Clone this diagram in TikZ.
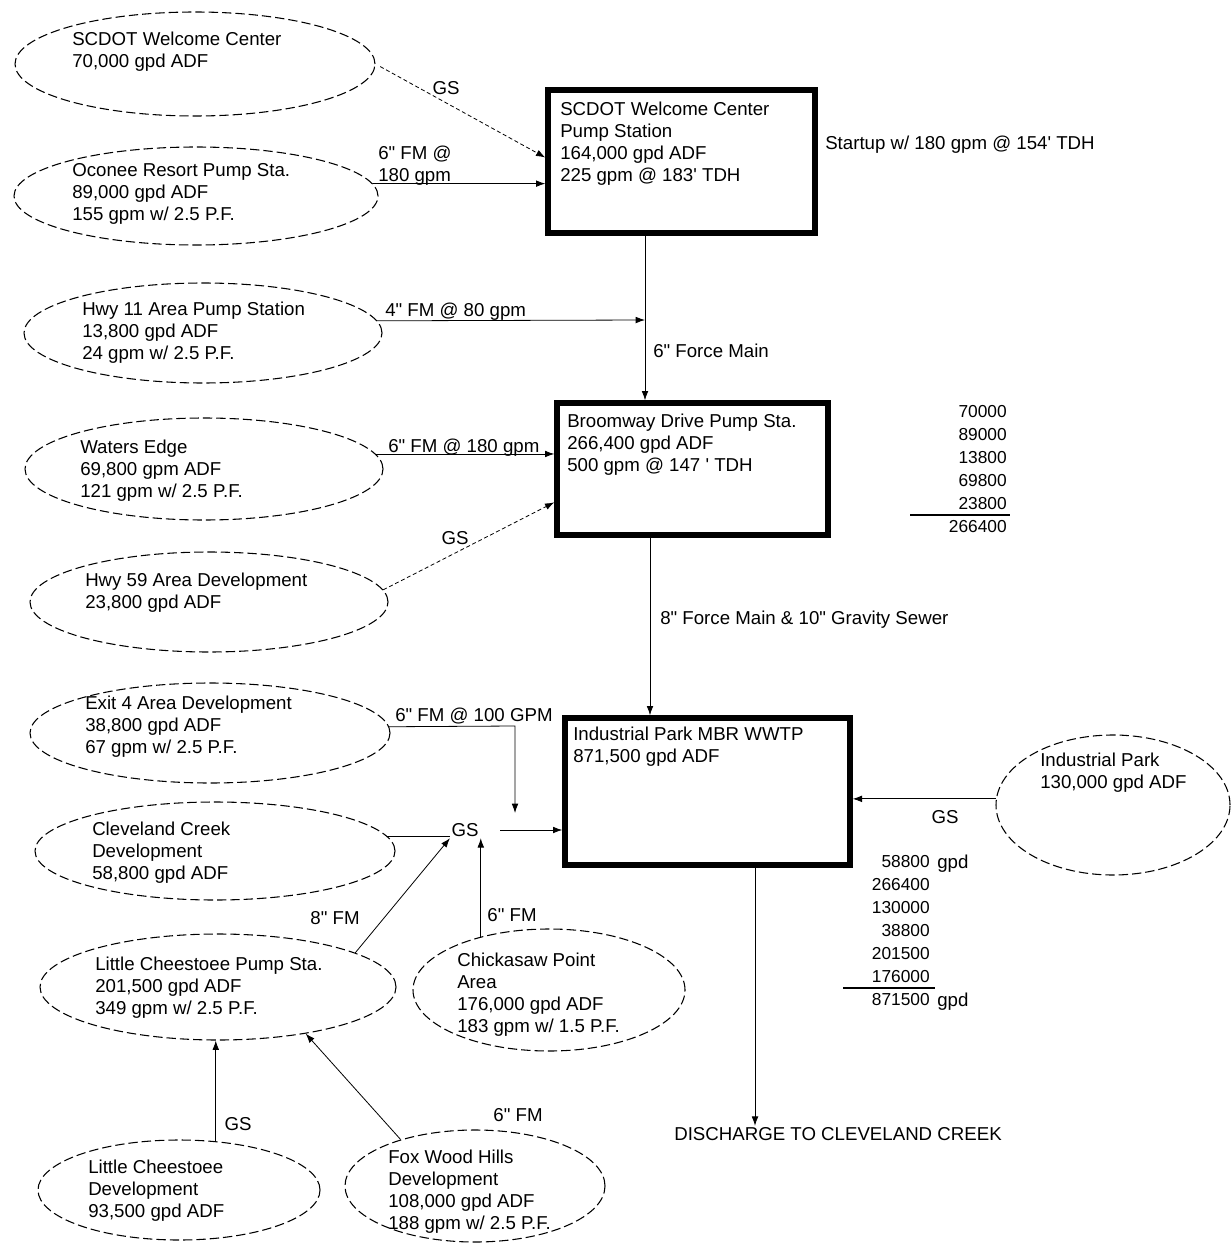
\documentclass[tikz,border=0pt]{standalone}
\usepackage{fontspec}
\setmainfont{Liberation Sans}[Ligatures=TeXOff]
\usetikzlibrary{shapes.geometric,arrows.meta}
\begin{document}
\begin{tikzpicture}[x=0.75pt,y=-0.75pt,
  every node/.style={font=\fontsize{14}{16.5}\selectfont},
  dims/.style 2 args={minimum width=#1*0.75pt, minimum height=#2*0.75pt},
  area/.style={ellipse, draw, dash pattern=on 7pt off 3pt, line width=0.8pt, inner sep=0pt},
  station/.style={rectangle, draw, line width=4pt, inner sep=0pt},
  txt/.style={align=left, anchor=north west, inner sep=0pt},
  tag/.style={inner sep=1pt},
  flow/.style={-{Latex[length=7pt,width=5pt]}, line width=0.6pt},
  gsflow/.style={flow, densely dashed},
  sums/.style={align=right, anchor=north east, inner sep=0pt, font=\fontsize{13}{17.2}\selectfont},
]
\useasboundingbox (0,0) rectangle (1230,1244);

% ---- contributing areas (dashed ellipses) ----
\node[area, dims={360}{104}] (wc)   at (195,64)   {};
\node[area, dims={364}{98}]  (oc)   at (196,196)  {};
\node[area, dims={358}{100}] (h11)  at (203,333)  {};
\node[area, dims={358}{102}] (we)   at (204,469)  {};
\node[area, dims={358}{100}] (h59)  at (209,602)  {};
\node[area, dims={360}{100}] (ex4)  at (210,733)  {};
\node[area, dims={360}{98}]  (cc)   at (215,851)  {};
\node[area, dims={356}{106}] (lcps) at (218,987)  {};
\node[area, dims={272}{122}] (cp)   at (549,990)  {};
\node[area, dims={234}{140}] (ip)   at (1113,805) {};
\node[area, dims={282}{100}] (lcd)  at (179,1190) {};
\node[area, dims={260}{112}] (fw)   at (475,1186) {};

\node[txt] (wct)   at (72,32)    {SCDOT Welcome Center\\70,000 gpd ADF};
\node[txt] (oct)   at (72,163)   {Oconee Resort Pump Sta.\\89,000 gpd ADF\\155 gpm w/ 2.5 P.F.};
\node[txt] (h11t)  at (82,302)   {Hwy 11 Area Pump Station\\13,800 gpd ADF\\24 gpm w/ 2.5 P.F.};
\node[txt] (wet)   at (80,440)   {Waters Edge\\69,800 gpm ADF\\121 gpm w/ 2.5 P.F.};
\node[txt] (h59t)  at (85,573)   {Hwy 59 Area Development\\23,800 gpd ADF};
\node[txt] (ex4t)  at (85,696)   {Exit 4 Area Development\\38,800 gpd ADF\\67 gpm w/ 2.5 P.F.};
\node[txt] (cct)   at (92,822)   {Cleveland Creek\\Development\\58,800 gpd ADF};
\node[txt] (lcpst) at (95,957)   {Little Cheestoee Pump Sta.\\201,500 gpd ADF\\349 gpm w/ 2.5 P.F.};
\node[txt] (cpt)   at (457,953)  {Chickasaw Point\\Area\\176,000 gpd ADF\\183 gpm w/ 1.5 P.F.};
\node[txt] (ipt)   at (1040,753) {Industrial Park\\130,000 gpd ADF};
\node[txt] (lcdt)  at (88,1160)  {Little Cheestoee\\Development\\93,500 gpd ADF};
\node[txt] (fwt)   at (388,1150) {Fox Wood Hills\\Development\\108,000 gpd ADF\\188 gpm w/ 2.5 P.F.};

% ---- pump stations and plant (heavy boxes) ----
\node[station, dims={267}{143}] (b1) at (681.5,161.5) {};
\node[station, dims={271}{132}] (b2) at (692.5,469)   {};
\node[station, dims={285}{147}] (b3) at (707.5,791.5) {};

\node[txt] (b1t) at (560,102) {SCDOT Welcome Center\\Pump Station\\164,000 gpd ADF\\225 gpm @ 183' TDH};
\node[txt] (b2t) at (567,414) {Broomway Drive Pump Sta.\\266,400 gpd ADF\\500 gpm @ 147 ' TDH};
\node[txt] (b3t) at (573,727) {Industrial Park MBR WWTP\\871,500 gpd ADF};

\node[txt] (startup) at (825,136) {Startup w/ 180 gpm @ 154' TDH};

% ---- junction points ----
\coordinate (j1) at (645,320);
\coordinate (j2) at (650,620);
\coordinate (j3) at (515,726);
\coordinate (j4) at (515,813);
\coordinate (j5) at (755,1000);

\node[tag] (gs) at (465,830) {GS};
\node[tag] (dis) at (838,1134) {DISCHARGE TO CLEVELAND CREEK};

% ---- connectors ----
\draw[gsflow, shorten <=4pt] (wc.east) -- ([yshift=3pt]b1.west);
\node[tag] (l1) at (446,88) {GS};

\draw[flow] (oc.4) -- (oc.4 -| b1.west);
\node[txt] (l2) at (378,146) {6" FM @\\180 gpm};

\draw[flow] (b1.south -| j1) -- (b2.north -| j1);
\node[txt] (l3) at (653,344) {6" Force Main};

\draw[flow] (h11.4) -- (j1);
\node[txt] (l4) at (385,303) {4" FM @ 80 gpm};

\draw[flow] (we.5) -- (we.5 -| b2.west);
\node[txt] (l5) at (388,439) {6" FM @ 180 gpm};

\draw[gsflow] (h59.4) -- ([yshift=-25pt]b2.west);
\node[tag] (l6) at (455,538) {GS};

\draw[flow] (b2.south -| j2) -- (b3.north -| j2);
\node[txt] (l7) at (660,611) {8" Force Main \& 10" Gravity Sewer};

\draw[flow] (ex4.2) -- (j3) -- (j4);
\node[txt] (l8) at (395,708) {6" FM @ 100 GPM};

\draw[line width=0.6pt] (cc.5) -- (cc.5 -| gs.west);
\draw[flow] ([xshift=15pt]gs.east) -- (gs.east -| b3.west);

\draw[flow] (lcps.14) -- (gs.south west);
\node[tag] (l9) at (335,918) {8" FM};

\draw[flow] (cp.142) -- (cp.142 |- gs.south);
\node[tag] (l10) at (512,915) {6" FM};

\draw[flow] (ip.177) -- (ip.177 -| b3.east);
\node[tag] (l11) at (945,817) {GS};

\draw[flow] (b3.south -| j5) -- (j5 |- dis.north);

\draw[flow] (lcd.53) -- (lcd.53 |- lcps.south);
\node[tag] (l12) at (238,1124) {GS};

\draw[flow] (fw.148) -- (lcps.332);
\node[tag] (l13) at (518,1115) {6" FM};

% ---- flow tallies ----
\node[sums] (tot1) at (1007,405) {70000\\89000\\13800\\69800\\23800};
\draw[line width=0.8pt] (910,515) -- (1010,515);
\node[sums] (sum1) at (1007,520) {266400};

\node[sums] (tot2) at (930,855) {58800\\266400\\130000\\38800\\201500\\176000};
\node[txt] (gpd1) at (937,855) {gpd};
\draw[line width=0.8pt] (843,988) -- (935,988);
\node[sums] (sum2) at (930,993) {871500};
\node[txt] (gpd2) at (937,993) {gpd};
\end{tikzpicture}
\end{document}
